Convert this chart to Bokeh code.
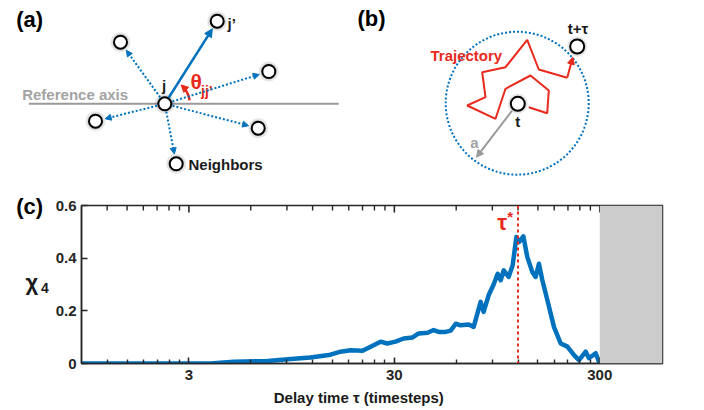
import numpy as np
from bokeh.plotting import figure
from bokeh.models import (Range1d, Label, Span, FixedTicker, Arrow,
                          NormalHead, BoxAnnotation, ColumnDataSource)
from bokeh.layouts import column, row
from bokeh.embed import file_html
from bokeh.resources import INLINE
from bokeh.core.properties import value

# ---------------- data: panel (c) ----------------
tau = [0.9, 2.0, 3.83, 4.95, 7.25, 9.4, 11.7, 14.4, 16.4, 18.4, 21.0, 23.0, 25.7,
       27.7, 30.4, 33.3, 36.8, 39.4, 43.6, 46.6, 49.3, 53.3, 56.4, 59.7, 63.1,
       69.0, 73.0, 78.9, 81.6, 86.3, 91.3, 95.5, 98.8, 102.2, 108.1, 113.0, 117.8,
       121.3, 127.4, 133.2, 140.9, 146.2, 151.7, 157.6, 166.8, 179.5, 193.6, 208.7,
       224.8, 237.6, 256.2, 265.8, 286.5, 297.3, 300.0]
chi4 = [0.0, 0.0, 0.0, 0.007, 0.0095, 0.017, 0.023, 0.032, 0.045, 0.050, 0.048,
        0.064, 0.083, 0.076, 0.083, 0.095, 0.099, 0.114, 0.117, 0.127, 0.120,
        0.120, 0.125, 0.151, 0.145, 0.148, 0.139, 0.234, 0.196, 0.259, 0.300,
        0.341, 0.316, 0.354, 0.329, 0.373, 0.480, 0.461, 0.483, 0.404, 0.347,
        0.329, 0.379, 0.316, 0.240, 0.139, 0.076, 0.064, 0.032, 0.013, 0.045,
        0.020, 0.039, 0.007, 0.010]
tau_star = 120
tau_max = 300
x_lo, x_hi = 0.9, 606
y_lo, y_hi = 0.0, 0.6

xticks = [3, 30, 300]
xtick_labels = ["3", "30", "300"]
xminor = [1.2, 1.5, 1.8, 2.1, 2.4, 2.7, 6, 9, 12, 15, 18, 21, 24, 27,
          60, 90, 120, 150, 180, 210, 240, 270]
yticks = [0, 0.2, 0.4, 0.6]
ytick_labels = ["0", "0.2", "0.4", "0.6"]

# ---------------- diagram geometry (pixel space) ----------------
node_a_x = [164.3, 216.7, 120.0, 268.3, 95.0, 257.7, 175.7]   # j, j', neighbours
node_a_y = [103.3, 20.7, 41.7, 71.0, 120.7, 127.7, 163.3]
ref_axis_x = [28.3, 338.3]
ref_axis_y = [103.3, 103.3]

node_b_x = [517.3, 576.7]   # t, t+tau
node_b_y = [103.3, 46.0]
disk_x, disk_y, disk_r = 516.7, 102.7, 71.5
traj_x = [528.3, 546.7, 548.3, 530.0, 505.0, 495.0, 466.7, 485.0, 481.7,
          505.0, 526.7, 538.3, 566.7, 572.3]
traj_y = [106.7, 112.7, 90.0, 75.0, 88.3, 118.3, 105.0, 96.7, 71.7,
          66.7, 39.3, 69.0, 77.3, 56.7]
a_arrow = [511.7, 110.0, 476.0, 156.7]

BLUE = "#0072BD"
RED = "#E8291C"
GRAY = "#A3A3A3"
INK = "#1A1A1A"
AX = "#262626"
FONT = "Liberation Sans"


def canvas_fig(w, h):
    f = figure(width=w, height=h, x_range=Range1d(0, w), y_range=Range1d(h, 0),
               output_backend="svg", toolbar_location=None, min_border=0,
               x_axis_location=None, y_axis_location=None, outline_line_color=None)
    f.frame_align = False
    f.xgrid.visible = False
    f.ygrid.visible = False
    return f


def txt(fig, x, y, s, size, color, align="left"):
    fig.text(x=[x], y=[y], text=[s], text_font=value(FONT), text_font_style="bold",
             text_font_size=f"{size}px", text_color=color, text_align=align,
             text_baseline="middle")


# ================= top figure: diagrams (a) and (b) =================
top = canvas_fig(704, 180)

top.line(ref_axis_x, ref_axis_y, line_color="#9A9A9A", line_width=2)
txt(top, 21.7, 93.5, "Reference axis", 15, GRAY)

jx, jy = node_a_x[0], node_a_y[0]
ax_ = np.array(node_a_x)
ay_ = np.array(node_a_y)
dx, dy = ax_ - jx, ay_ - jy
dist = np.hypot(dx, dy)
dist[0] = 1.0
ux, uy = dx / dist, dy / dist

nb = slice(2, None)
src_d = ColumnDataSource(dict(x0=(jx + 8 * ux)[nb], y0=(jy + 8 * uy)[nb],
                              x1=(ax_ - 10 * ux)[nb], y1=(ay_ - 10 * uy)[nb]))
top.add_layout(Arrow(end=NormalHead(size=6, fill_color=BLUE, line_color=BLUE, line_width=1),
                     source=src_d, x_start="x0", y_start="y0", x_end="x1", y_end="y1",
                     line_color=BLUE, line_width=2, line_dash="2 2"))
top.add_layout(Arrow(end=NormalHead(size=8, fill_color=BLUE, line_color=BLUE, line_width=1),
                     x_start=jx + 7.5 * ux[1], y_start=jy + 7.5 * uy[1],
                     x_end=ax_[1] - 9 * ux[1], y_end=ay_[1] - 9 * uy[1],
                     line_color=BLUE, line_width=2.5))

arc_r = 25.0
angs = np.radians(np.linspace(8, 44, 20))
top.line(jx + arc_r * np.cos(angs), jy - arc_r * np.sin(angs), line_color=RED, line_width=2.5)
a1, a2 = np.radians(42), np.radians(49)
top.add_layout(Arrow(end=NormalHead(size=7, fill_color=RED, line_color=RED, line_width=1),
                     x_start=jx + arc_r * np.cos(a1), y_start=jy - arc_r * np.sin(a1),
                     x_end=jx + arc_r * np.cos(a2), y_end=jy - arc_r * np.sin(a2),
                     line_color=RED, line_width=2.5))

top.scatter(node_a_x, node_a_y, size=20, fill_color="black", fill_alpha=0.10, line_color=None)
top.scatter(node_a_x, node_a_y, size=16, fill_color="black", fill_alpha=0.12, line_color=None)
top.scatter(node_a_x, node_a_y, size=13, fill_color="white", line_color="black", line_width=2)

txt(top, 29.2, 19, "(a)", 22, "black", "center")
txt(top, 163.7, 85, "j", 15, INK, "center")
txt(top, 227, 23, "j\u2019", 15, INK)
txt(top, 188, 163.5, "Neighbors", 15, INK)
txt(top, 190, 81, "\u03b8", 21, RED)
txt(top, 200.5, 90, "jj\u2019", 14, RED)

top.circle(x=[disk_x], y=[disk_y], radius=disk_r, fill_color=None,
           line_color=BLUE, line_width=2, line_dash="2 2")
top.line(traj_x[:-1], traj_y[:-1], line_color=RED, line_width=2)
top.add_layout(Arrow(end=NormalHead(size=7, fill_color=RED, line_color=RED, line_width=1),
                     x_start=traj_x[-2], y_start=traj_y[-2], x_end=traj_x[-1], y_end=traj_y[-1],
                     line_color=RED, line_width=2))
top.add_layout(Arrow(end=NormalHead(size=7, fill_color="#9A9A9A", line_color="#9A9A9A", line_width=1),
                     x_start=a_arrow[0], y_start=a_arrow[1], x_end=a_arrow[2], y_end=a_arrow[3],
                     line_color="#9A9A9A", line_width=2))
top.scatter(node_b_x, node_b_y, size=20, fill_color="black", fill_alpha=0.10, line_color=None)
top.scatter(node_b_x, node_b_y, size=16, fill_color="black", fill_alpha=0.12, line_color=None)
top.scatter(node_b_x, node_b_y, size=14, fill_color="white", line_color="black", line_width=2)

txt(top, 371, 18, "(b)", 22, "black", "center")
txt(top, 430, 54.5, "Trajectory", 15, RED)
txt(top, 577.5, 28, "t+\u03c4", 15, INK, "center")
txt(top, 517.3, 121, "t", 15, INK, "center")
txt(top, 474, 141.7, "a", 15, GRAY, "center")

# ================= left strip: (c) and y label =================
left = canvas_fig(51, 208)
txt(left, 29.2, 25.8, "(c)", 22, "black", "center")
txt(left, 25, 102, "\u03c7", 22, INK)
txt(left, 40.5, 107, "4", 14, INK)

# ================= panel (c) =================
FRAME_H = 158
p = figure(width=653, height=208, x_axis_type="log", x_range=Range1d(x_lo, x_hi),
           y_range=Range1d(y_lo, y_hi), output_backend="svg", toolbar_location=None,
           min_border_left=30, min_border_right=42, min_border_top=25, min_border_bottom=25)
p.frame_align = False
p.xgrid.visible = False
p.ygrid.visible = False
p.outline_line_color = AX
p.outline_line_width = 1.5

p.line(tau, chi4, line_color=BLUE, line_width=4.5, line_join="round")

# inward ticks along the top edge of the box
px_to_y = (y_hi - y_lo) / FRAME_H
p.segment(x0=xticks, y0=[y_hi] * len(xticks), x1=xticks,
          y1=[y_hi - 7 * px_to_y] * len(xticks), line_color=AX, line_width=1.6)
p.segment(x0=xminor, y0=[y_hi] * len(xminor), x1=xminor,
          y1=[y_hi - 5 * px_to_y] * len(xminor), line_color=AX, line_width=1.4)

p.add_layout(BoxAnnotation(left=tau_max, fill_color="#CCCCCC", fill_alpha=1.0, line_color=None))
p.add_layout(Span(location=tau_star, dimension="height", line_color=RED,
                  line_width=2, line_dash="3 3"))

xa = p.xaxis[0]
xa.ticker = FixedTicker(ticks=xticks, minor_ticks=xminor)
xa.major_tick_in = 6
xa.major_tick_out = 0
xa.minor_tick_in = 4
xa.minor_tick_out = 0
xa.axis_line_color = AX
xa.axis_line_width = 1.5
xa.major_tick_line_color = AX
xa.major_tick_line_width = 1.6
xa.minor_tick_line_color = AX
xa.minor_tick_line_width = 1.4
xa.major_label_overrides = dict(zip(xticks, xtick_labels))
xa.major_label_text_font = FONT
xa.major_label_text_font_style = "bold"
xa.major_label_text_color = AX
xa.major_label_text_font_size = "15px"
xa.major_label_standoff = 6

ya = p.yaxis[0]
ya.ticker = FixedTicker(ticks=yticks)
ya.major_label_overrides = dict(zip(yticks, ytick_labels))
ya.major_tick_in = 6
ya.major_tick_out = 0
ya.minor_tick_in = 0
ya.minor_tick_out = 0
ya.axis_line_color = AX
ya.axis_line_width = 1.5
ya.major_tick_line_color = AX
ya.major_tick_line_width = 1.6
ya.major_label_text_font = FONT
ya.major_label_text_font_style = "bold"
ya.major_label_text_font_size = "15px"
ya.major_label_text_color = AX
ya.major_label_standoff = 5

for s, size, yv, xo in [("\u03c4", 22, 0.536, -11), ("*", 15, 0.559, -5)]:
    p.add_layout(Label(x=tau_star, y=yv, x_offset=xo, text=s, text_font=FONT,
                       text_font_style="bold", text_font_size=f"{size}px", text_color=RED,
                       text_align="right", text_baseline="middle"))

# ================= bottom strip: x label =================
bottom = canvas_fig(704, 22)
txt(bottom, 358.3, 8.7, "Delay time \u03c4 (timesteps)", 15, INK, "center")

layout = column(top, row(left, p, spacing=0), bottom, spacing=0)
open("out.html", "w").write(file_html(layout, INLINE))
